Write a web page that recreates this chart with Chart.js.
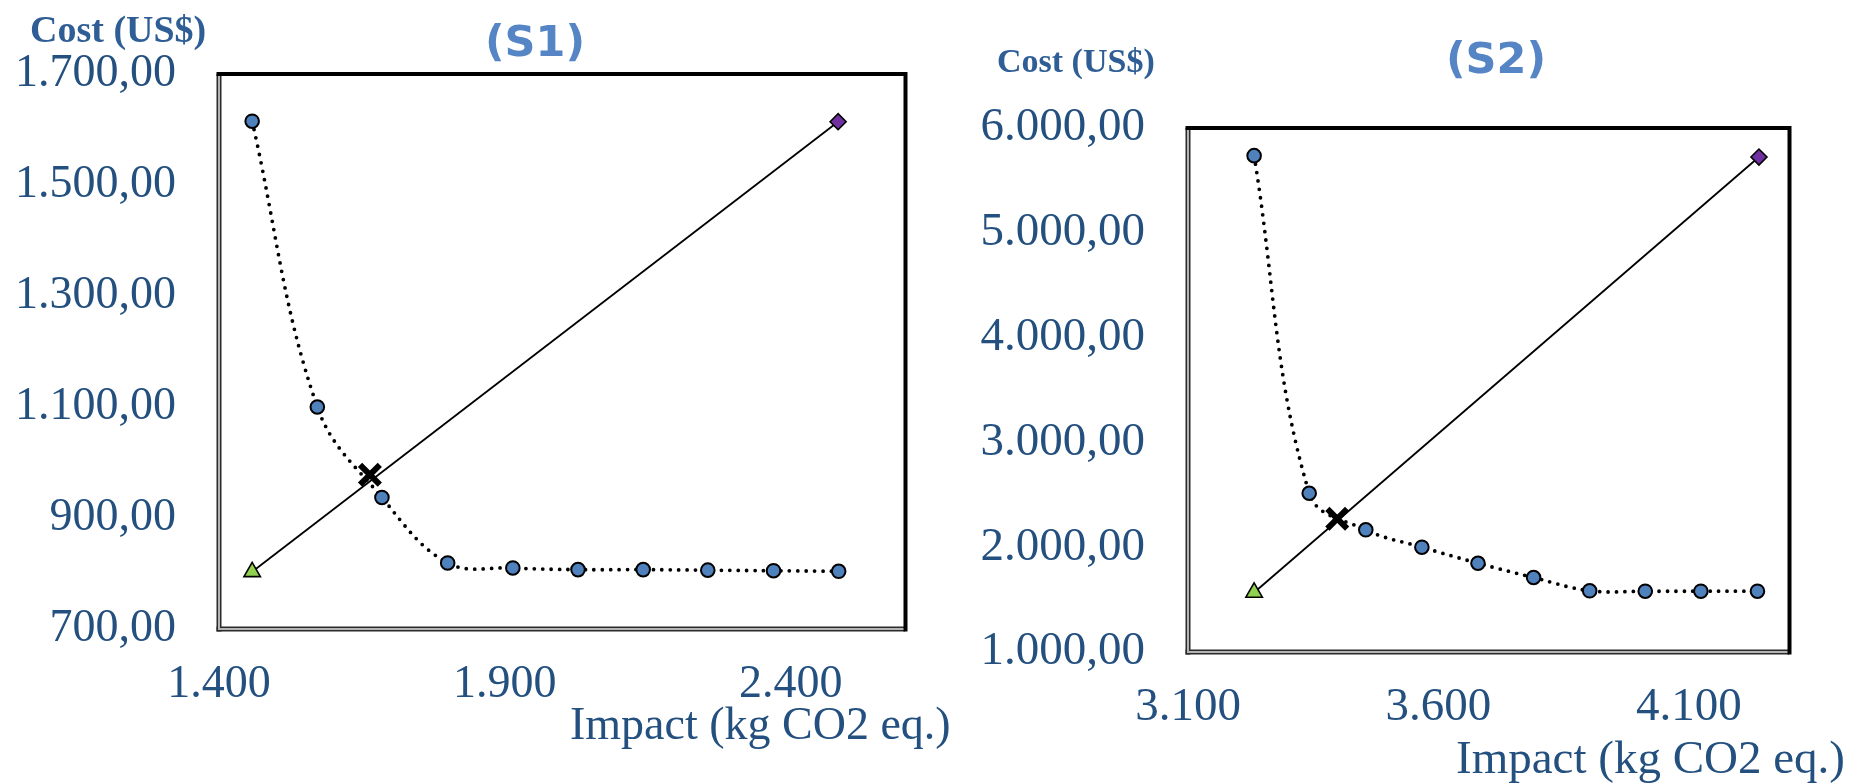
<!DOCTYPE html>
<html>
<head>
<meta charset="utf-8">
<script src="https://cdn.jsdelivr.net/npm/chart.js@4.4.1/dist/chart.umd.min.js"></script>
<style>
  html, body { margin: 0; padding: 0; background: #ffffff; }
  #wrap { position: relative; width: 1864px; height: 784px; overflow: hidden; background: #ffffff; }
  canvas { position: absolute; left: 0; top: 0; }
</style>
</head>
<body>
<div id="wrap">
  <canvas id="c1" width="1864" height="784"></canvas>
  <canvas id="c2" width="1864" height="784"></canvas>
</div>
<script>
// ---------------- DATA ----------------
// Scenario S1
const s1Title = '(S1)';
const s1Impact = [1458, 1572, 1685, 1800, 1914, 2028, 2142, 2255, 2370, 2484];
const s1Cost   = [1615, 1100, 937, 819, 810, 807, 807, 806, 805, 804];
const s1LineImpact = [1458, 2483];     // triangle (start) -> diamond (end)
const s1LineCost   = [803, 1614];
const s1KneeImpact = [1664];           // black X
const s1KneeCost   = [978];
const s1XTicks = [1400, 1900, 2400];
const s1YTicks = [700, 900, 1100, 1300, 1500, 1700];
const s1XRange = [1400, 2600];
const s1YRange = [700, 1700];

// Scenario S2
const s2Title = '(S2)';
const s2Impact = [3232, 3342, 3455, 3567, 3679, 3790, 3902, 4013, 4124, 4237];
const s2Cost   = [5736, 2515, 2166, 2000, 1847, 1711, 1584, 1580, 1580, 1580];
const s2LineImpact = [3232, 4240];
const s2LineCost   = [1568, 5723];
const s2KneeImpact = [3398];
const s2KneeCost   = [2271];
const s2XTicks = [3100, 3600, 4100];
const s2YTicks = [1000, 2000, 3000, 4000, 5000, 6000];
const s2XRange = [3100, 4300];
const s2YRange = [1000, 6000];

const yAxisTitle = 'Cost (US$)';
const xAxisTitle = 'Impact (kg CO2 eq.)';

// ---------------- helpers ----------------
function fmtDe(v, dec) {
  const s = Number(v).toFixed(dec);
  const parts = s.split('.');
  const i = parts[0].replace(/\B(?=(\d{3})+(?!\d))/g, '.');
  return parts[1] ? i + ',' + parts[1] : i;
}
function pts(xs, ys) { return xs.map((x, i) => ({ x: x, y: ys[i] })); }

const SERIF = "'Liberation Serif', 'Times New Roman', serif";
const TICK_COLOR = '#24507F';

// frame + text decoration plugin
const decoPlugin = {
  id: 'deco',
  afterDraw(chart, args, opts) {
    const ctx = chart.ctx;
    const a = chart.chartArea;
    ctx.save();
    // left & bottom: double (3D-like) frame
    ctx.fillStyle = '#2b2b2b';
    ctx.fillRect(a.left - 2.5, a.top, 5, a.bottom - a.top + 2.5);
    ctx.fillRect(a.left - 2.5, a.bottom - 2.5, a.right - a.left + 2.5, 5);
    ctx.fillStyle = '#b4b4b4';
    ctx.fillRect(a.left - 1, a.top, 2, a.bottom - a.top + 1);
    ctx.fillRect(a.left - 1, a.bottom - 1, a.right - a.left + 1, 2);
    // top & right: thick black
    ctx.fillStyle = '#000000';
    ctx.fillRect(a.left - 2.5, a.top - 2, a.right - a.left + 4.5, 4);
    ctx.fillRect(a.right - 1.5, a.top - 2, 4, a.bottom - a.top + 4.5);
    // texts
    (opts.texts || []).forEach(t => {
      ctx.font = t.font;
      ctx.fillStyle = t.color;
      ctx.textAlign = t.align || 'left';
      ctx.textBaseline = 'alphabetic';
      ctx.fillText(t.text, t.x, t.y);
    });
    ctx.restore();
  }
};

function makeChart(id, d) {
  const ctx = document.getElementById(id).getContext('2d');
  return new Chart(ctx, {
    type: 'scatter',
    data: {
      datasets: [
        {
          label: 'knee',
          data: pts(d.kneeX, d.kneeY),
          pointStyle: 'crossRot',
          pointRadius: 14,
          pointBorderWidth: 6,
          pointBorderColor: '#000000',
          pointBackgroundColor: '#000000',
          showLine: false,
          order: 0
        },
        {
          label: 'front',
          data: pts(d.x, d.y),
          showLine: true,
          tension: 0.38,
          borderColor: '#000000',
          borderWidth: 3.8,
          borderDash: [0, 8.5],
          borderCapStyle: 'round',
          pointStyle: 'circle',
          pointRadius: 6.8,
          pointBorderWidth: 2,
          pointBorderColor: '#000000',
          pointBackgroundColor: '#4F81BD',
          order: 1
        },
        {
          label: 'line',
          data: pts(d.lineX, d.lineY),
          showLine: true,
          tension: 0,
          borderColor: '#000000',
          borderWidth: 1.8,
          pointStyle: ['triangle', 'rectRot'],
          pointRadius: [9.5, 8],
          pointBorderWidth: 1.6,
          pointBorderColor: '#000000',
          pointBackgroundColor: ['#92D050', '#7030A0'],
          order: 2
        }
      ]
    },
    options: {
      responsive: false,
      animation: false,
      devicePixelRatio: 1,
      events: [],
      layout: { padding: { left: 0, top: d.area.top, right: 1864 - d.area.right, bottom: 0 } },
      plugins: {
        legend: { display: false },
        tooltip: { enabled: false },
        title: { display: false },
        deco: { texts: d.texts }
      },
      scales: {
        x: {
          type: 'linear',
          min: d.xRange[0], max: d.xRange[1],
          grid: { display: false, drawTicks: false },
          border: { display: false },
          ticks: {
            autoSkip: false, maxRotation: 0,
            padding: d.xTickPad,
            color: TICK_COLOR,
            font: { family: SERIF, size: d.tickSize },
            callback: (v) => fmtDe(v, 0)
          },
          afterBuildTicks: (s) => { s.ticks = d.xTicks.map(v => ({ value: v })); },
          afterFit: (s) => { s.height = 784 - d.area.bottom; }
        },
        y: {
          type: 'linear',
          min: d.yRange[0], max: d.yRange[1],
          grid: { display: false, drawTicks: false },
          border: { display: false },
          ticks: {
            autoSkip: false,
            padding: d.yTickPad,
            color: TICK_COLOR,
            font: { family: SERIF, size: d.tickSize },
            callback: (v) => fmtDe(v, 2)
          },
          afterBuildTicks: (s) => { s.ticks = d.yTicks.map(v => ({ value: v })); },
          afterFit: (s) => { s.width = d.area.left; }
        }
      }
    },
    plugins: [decoPlugin]
  });
}

makeChart('c1', {
  x: s1Impact, y: s1Cost, lineX: s1LineImpact, lineY: s1LineCost,
  kneeX: s1KneeImpact, kneeY: s1KneeCost,
  xTicks: s1XTicks, yTicks: s1YTicks, xRange: s1XRange, yRange: s1YRange,
  area: { left: 219, right: 905, top: 74, bottom: 629 },
  tickSize: 46, xTickPad: 28, yTickPad: 43,
  texts: [
    { text: yAxisTitle, x: 30, y: 42, font: "bold 38px " + SERIF, color: '#2E5E95' },
    { text: s1Title, x: 535, y: 56, font: "bold 43px 'DejaVu Sans', Verdana, sans-serif", color: '#5585C5', align: 'center' },
    { text: xAxisTitle, x: 570, y: 739, font: "46px " + SERIF, color: TICK_COLOR }
  ]
});

makeChart('c2', {
  x: s2Impact, y: s2Cost, lineX: s2LineImpact, lineY: s2LineCost,
  kneeX: s2KneeImpact, kneeY: s2KneeCost,
  xTicks: s2XTicks, yTicks: s2YTicks, xRange: s2XRange, yRange: s2YRange,
  area: { left: 1188, right: 1789, top: 128, bottom: 652 },
  tickSize: 47, xTickPad: 27, yTickPad: 43,
  texts: [
    { text: yAxisTitle, x: 997, y: 72, font: "bold 34px " + SERIF, color: '#2E5E95' },
    { text: s2Title, x: 1496, y: 73, font: "bold 43px 'DejaVu Sans', Verdana, sans-serif", color: '#5585C5', align: 'center' },
    { text: xAxisTitle, x: 1456, y: 773, font: "47px " + SERIF, color: TICK_COLOR }
  ]
});
</script>
</body>
</html>
